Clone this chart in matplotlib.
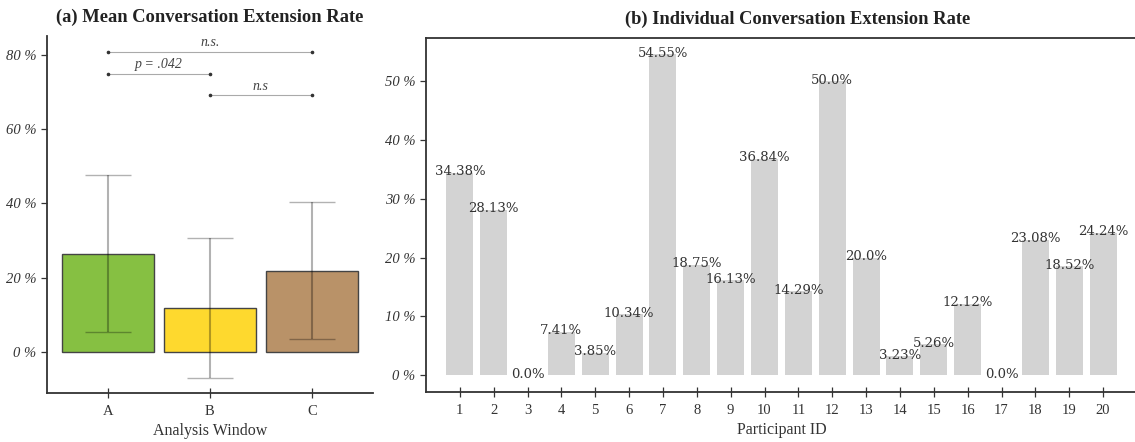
import matplotlib
matplotlib.use('Agg')
import matplotlib.pyplot as plt

# values
windows = ['A', 'B', 'C']
mean_rate = [26.5, 11.9, 21.9]
sd_rate = [21.0, 18.9, 18.5]
window_colors = ['#86c042', '#fed92e', '#b99268']

pairs = [(0, 2), (0, 1), (1, 2)]
pair_heights = [80.8, 74.9, 69.0]
pair_labels = ['n.s.', 'p = .042', 'n.s']

participants = list(range(1, 21))
rates = [34.38, 28.13, 0.0, 7.41, 3.85, 10.34, 54.55, 18.75, 16.13, 36.84,
         14.29, 50.0, 20.0, 3.23, 5.26, 12.12, 0.0, 23.08, 18.52, 24.24]

plt.rcParams['font.family'] = 'Liberation Serif'
dark = '#333333'

fig = plt.figure(figsize=(11.35, 4.42), dpi=100)
ax1 = fig.add_axes([0.0414, 0.1109, 0.2872, 0.8077])
ax2 = fig.add_axes([0.3753, 0.1131, 0.6264, 0.8016])

# (a) mean rate per window
x = range(len(windows))
ax1.bar(x, mean_rate, width=0.9, color=window_colors, edgecolor='#444444',
        linewidth=1.0, zorder=2)
ax1.errorbar(x, mean_rate, yerr=sd_rate, fmt='none', ecolor='black',
             alpha=0.3, elinewidth=1.5, capsize=16.5, capthick=1.0, zorder=3)
for (a, b), h, lab in zip(pairs, pair_heights, pair_labels):
    ax1.plot([a, b], [h, h], color='#aaaaaa', lw=0.8, zorder=1)
    ax1.plot([a, b], [h, h], ls='none', marker='o', ms=1.6, color=dark, zorder=2)
    ax1.text((a + b) / 2, h + 0.7, lab, ha='center', va='bottom',
             style='italic', fontsize=10, color='#444444')
ax1.set_xlim(-0.6, 2.6)
ax1.set_ylim(-11, 85)
ax1.set_xticks(list(x))
ax1.set_xticklabels(windows)
ax1.set_yticks([0, 20, 40, 60, 80])
ax1.set_yticklabels([f'{v} %' for v in [0, 20, 40, 60, 80]], style='italic')
ax1.set_xlabel('Analysis Window', fontsize=11.5, color=dark)
ax1.set_title('(a) Mean Conversation Extension Rate', fontsize=13.3,
              fontweight='bold', color='#222222', pad=10)
for s in ['top', 'right']:
    ax1.spines[s].set_visible(False)

# (b) individual rates
ax2.bar(participants, rates, width=0.8, color='#d3d3d3', zorder=2)
for p, r in zip(participants, rates):
    ax2.text(p, r + 0.2, f'{r}%', ha='center', va='center', fontsize=9.5,
             family='DejaVu Serif', color=dark, zorder=3)
ax2.set_xlim(0, 21)
ax2.set_ylim(-2.85, 57.4)
ax2.set_xticks(participants)
ax2.set_yticks([0, 10, 20, 30, 40, 50])
ax2.set_yticklabels([f'{v} %' for v in [0, 10, 20, 30, 40, 50]], style='italic')
ax2.set_xlabel('Participant ID', fontsize=11.5, color=dark)
ax2.set_title('(b) Individual Conversation Extension Rate', fontsize=13.3,
              fontweight='bold', color='#222222', pad=10, x=0.523)

for ax in [ax1, ax2]:
    for s in ax.spines.values():
        s.set_color(dark)
        s.set_linewidth(1.3)
    ax.tick_params(axis='x', direction='inout', length=7, width=0.9,
                   colors=dark, labelsize=10.5, pad=5)
    ax.tick_params(axis='y', direction='out', length=4, width=0.9,
                   colors=dark, labelsize=10.5)

fig.savefig('out.png', dpi=100)
